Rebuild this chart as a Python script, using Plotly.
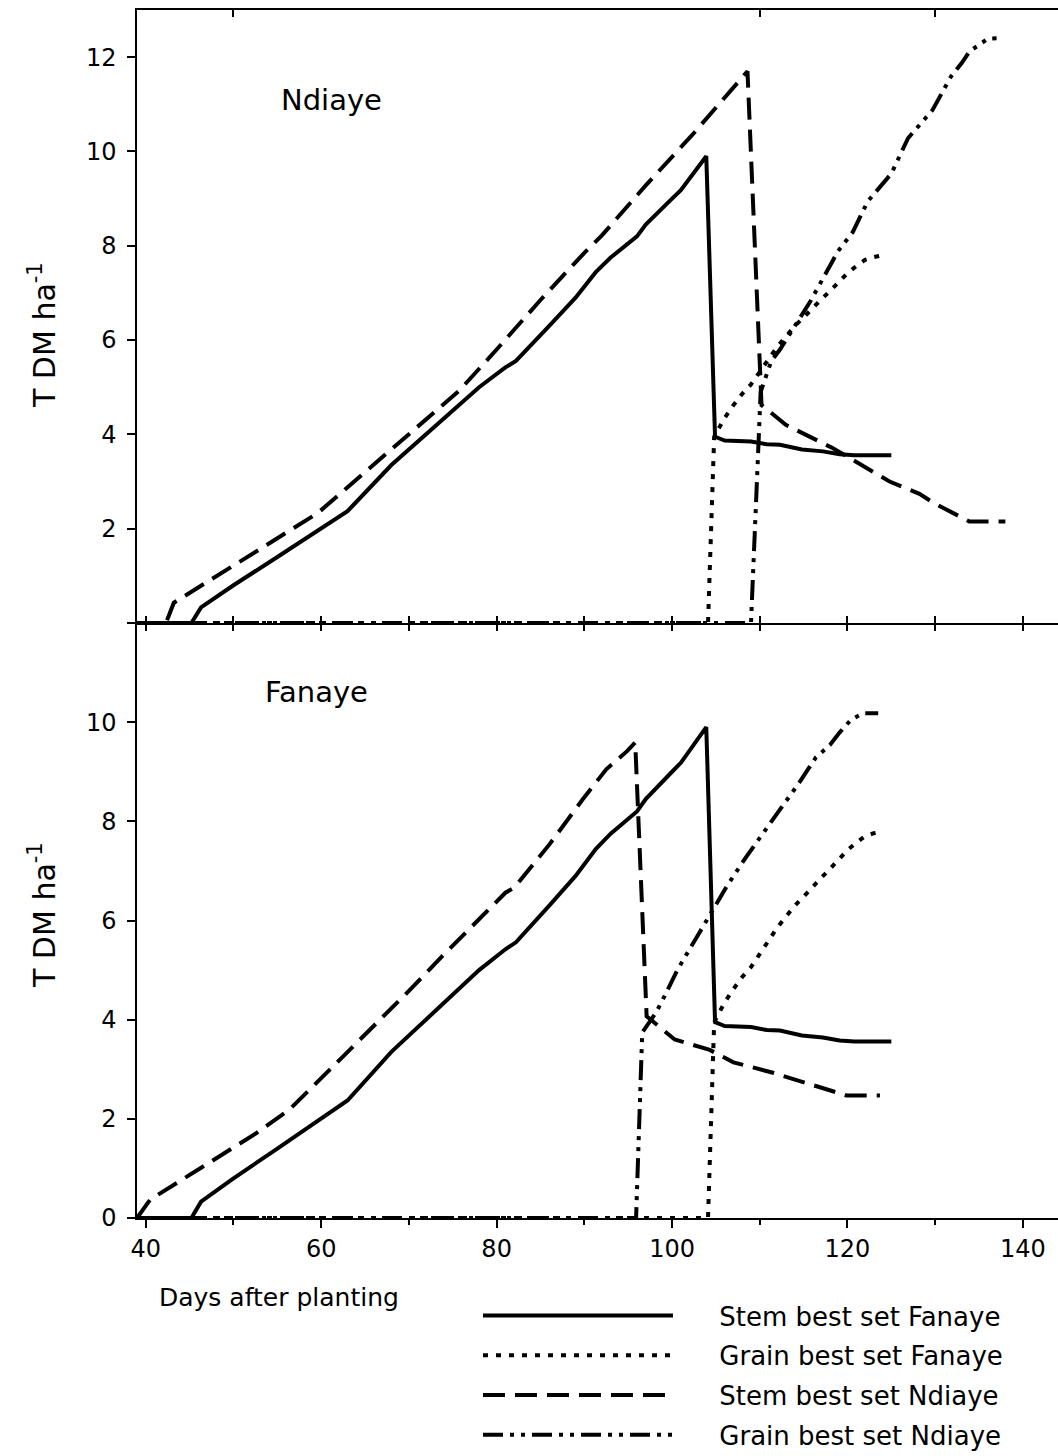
import plotly.graph_objects as go

# ---------------- data ----------------
# Stem / grain simulated with the "best set Fanaye" parameters (same in both panels)
stem_fan_days = [39, 45.2, 46.3, 50, 55, 60, 63, 68, 72, 76, 78, 81, 82.2, 86, 89, 91.3, 93, 96, 97,
                 100, 101, 103.9, 104.9, 106, 109, 110.8, 112.3, 114.8, 117.2, 119.1, 120.8, 125]
stem_fan_vals = [0, 0, 0.33, 0.80, 1.40, 2.00, 2.37, 3.35, 4.00, 4.65, 5.00, 5.42, 5.56, 6.30, 6.90, 7.44,
                 7.75, 8.20, 8.45, 9.00, 9.18, 9.90, 3.95, 3.87, 3.85, 3.79, 3.78, 3.68, 3.64, 3.58, 3.56, 3.56]

grain_fan_days = [39, 104.1, 104.8, 106, 107, 108, 109, 110, 111, 112, 113, 114, 115, 116, 117, 118,
                  119, 120, 121, 122, 123, 124]
grain_fan_vals = [0, 0, 3.95, 4.35, 4.62, 4.86, 5.06, 5.33, 5.60, 5.86, 6.08, 6.30, 6.48, 6.68, 6.86, 7.04,
                  7.23, 7.42, 7.57, 7.70, 7.76, 7.80]

# Ndiaye panel, "best set Ndiaye"
stem_ndi_site_ndi_days = [39, 42.3, 43.2, 50, 55, 59.6, 65, 70, 75.7, 80, 85, 90, 92, 97, 102.3, 108.6,
                          110.2, 113, 118.3, 124.8, 128.2, 129.7, 132.8, 133.9, 138]
stem_ndi_site_ndi_vals = [0, 0, 0.43, 1.22, 1.80, 2.33, 3.20, 4.00, 4.92, 5.80, 6.85, 7.85, 8.22, 9.28,
                          10.35, 11.70, 4.62, 4.20, 3.71, 3.00, 2.74, 2.56, 2.25, 2.15, 2.15]

grain_ndi_site_ndi_days = [39, 109.0, 110.1, 111.3, 112.3, 115.7, 118.9, 120.6, 122.3, 125.0, 126.9,
                           129.7, 131.8, 133.0, 133.9, 136.0, 137.0]
grain_ndi_site_ndi_vals = [0, 0, 4.90, 5.55, 5.80, 6.80, 7.88, 8.29, 8.94, 9.53, 10.28, 10.88, 11.59,
                           11.87, 12.12, 12.39, 12.40]

# Fanaye panel, "best set Ndiaye"
stem_ndi_site_fan_days = [39, 40.5, 52.6, 56.4, 60, 65, 70, 73.8, 78, 81, 82, 86, 89.8, 92.5, 94.9, 95.8,
                          97.1, 98.6, 100.3, 104.3, 107, 111.5, 114.5, 117.6, 119.9, 123.7]
stem_ndi_site_fan_vals = [0, 0.37, 1.71, 2.19, 2.82, 3.70, 4.58, 5.28, 6.03, 6.56, 6.66, 7.53, 8.44, 9.05,
                          9.42, 9.59, 4.07, 3.86, 3.60, 3.39, 3.14, 2.93, 2.77, 2.60, 2.47, 2.47]

grain_ndi_site_fan_days = [39, 95.9, 96.6, 98.2, 99.3, 100.6, 103.1, 104.6, 106.2, 108.4, 111.5, 114.5,
                           116.4, 118.0, 119.1, 120.4, 121.8, 123.5]
grain_ndi_site_fan_vals = [0, 0, 3.74, 4.15, 4.53, 5.00, 5.75, 6.21, 6.68, 7.27, 8.02, 8.78, 9.29, 9.54,
                           9.79, 10.05, 10.18, 10.18]

series_names = ["Stem best set Fanaye", "Grain best set Fanaye", "Stem best set Ndiaye", "Grain best set Ndiaye"]
panel_labels = ["Ndiaye", "Fanaye"]
y_title = "T DM ha<sup>-1</sup>"
x_title = "Days after planting"

# ---------------- styles ----------------
FONT = "DejaVu Sans"
LW = 4
dashes = ["solid", "5px,8px", "22px,10px", "20px,7px,4px,7px,4px,7px"]
LEGEND_PAD = "\u00a0" * 5

top_series = [(stem_fan_days, stem_fan_vals), (grain_fan_days, grain_fan_vals),
              (stem_ndi_site_ndi_days, stem_ndi_site_ndi_vals), (grain_ndi_site_ndi_days, grain_ndi_site_ndi_vals)]
bot_series = [(stem_fan_days, stem_fan_vals), (grain_fan_days, grain_fan_vals),
              (stem_ndi_site_fan_days, stem_ndi_site_fan_vals), (grain_ndi_site_fan_days, grain_ndi_site_fan_vals)]

fig = go.Figure()
for i, (d, v) in enumerate(top_series):
    fig.add_trace(go.Scatter(x=d, y=v, mode="lines", name=LEGEND_PAD + series_names[i], legendgroup=f"g{i}",
                             line=dict(color="black", width=LW, dash=dashes[i]),
                             xaxis="x", yaxis="y", showlegend=True))
for i, (d, v) in enumerate(bot_series):
    fig.add_trace(go.Scatter(x=d, y=v, mode="lines", name=series_names[i], legendgroup=f"g{i}",
                             line=dict(color="black", width=LW, dash=dashes[i]),
                             xaxis="x2", yaxis="y2", showlegend=False))
# empty traces so the overlay tick axes get drawn
fig.add_trace(go.Scatter(x=[], y=[], xaxis="x3", yaxis="y", showlegend=False, hoverinfo="skip"))
fig.add_trace(go.Scatter(x=[], y=[], xaxis="x4", yaxis="y", showlegend=False, hoverinfo="skip"))

W, H = 1058, 1456
ML, MR, MT, MB = 137, 0, 10, 238
PW, PH = W - ML - MR, H - MT - MB
split = (1218 - 623) / PH
XR = [39, 144]

axis_common = dict(showgrid=False, zeroline=False, linecolor="black", linewidth=1.5,
                   tickcolor="black", tickwidth=1.5,
                   tickfont=dict(family=FONT, size=24, color="black"))

fig.update_layout(
    width=W, height=H,
    margin=dict(l=ML, r=MR, t=MT, b=MB, autoexpand=False),
    paper_bgcolor="white", plot_bgcolor="white",
    font=dict(family=FONT, color="black"),
    xaxis=dict(range=XR, domain=[0, 1], anchor="y", showline=True, mirror=True,
               ticks="inside", ticklen=7, tick0=40, dtick=10, showticklabels=False, **axis_common),
    xaxis3=dict(range=XR, overlaying="x", anchor="y", side="bottom", showline=False,
                ticks="outside", ticklen=7, tick0=40, dtick=10, showticklabels=False, **axis_common),
    xaxis4=dict(range=XR, overlaying="x", anchor="y", side="top", showline=False,
                ticks="inside", ticklen=7, tickvals=[50, 110, 130], showticklabels=False, **axis_common),
    yaxis=dict(range=[0, 13], domain=[split, 1], anchor="x", showline=True,
               tickvals=[0, 2, 4, 6, 8, 10, 12], ticktext=["", "2", "4", "6", "8", "10", "12"],
               ticks="outside", ticklen=8, ticklabelstandoff=6, **axis_common),
    xaxis2=dict(range=XR, domain=[0, 1], anchor="y2", showline=True,
                tickmode="linear", tick0=40, dtick=20, ticks="outside", ticklen=8,
                minor=dict(ticks="outside", ticklen=5, dtick=10, tick0=40, tickcolor="black", tickwidth=1.5),
                **axis_common),
    yaxis2=dict(range=[0, 12], domain=[0, split], anchor="x2", showline=True,
                tickvals=[0, 2, 4, 6, 8, 10], ticks="outside", ticklen=8, ticklabelstandoff=6,
                **axis_common),
    showlegend=True,
    legend=dict(x=(478 - ML) / PW, y=(1218 - 1292) / PH, xanchor="left", yanchor="top",
                font=dict(family=FONT, size=26, color="black"), itemwidth=190,
                tracegroupgap=3, bgcolor="rgba(0,0,0,0)", traceorder="grouped"),
)

def py(px):
    return (1218 - px) / PH

def pxx(px):
    return (px - ML) / PW

annots = [
    dict(text=panel_labels[0], x=pxx(331), y=py(100), xanchor="center", yanchor="middle",
         font=dict(family=FONT, size=29)),
    dict(text=panel_labels[1], x=pxx(316), y=py(692), xanchor="center", yanchor="middle",
         font=dict(family=FONT, size=29)),
    dict(text=y_title, x=pxx(42), y=py(335), textangle=-90, xanchor="center", yanchor="middle",
         font=dict(family=FONT, size=30)),
    dict(text=y_title, x=pxx(42), y=py(915), textangle=-90, xanchor="center", yanchor="middle",
         font=dict(family=FONT, size=30)),
    dict(text=x_title, x=pxx(157), y=py(1297), xanchor="left", yanchor="middle",
         font=dict(family=FONT, size=25)),
]
for a in annots:
    fig.add_annotation(xref="paper", yref="paper", showarrow=False, **a)

fig.write_html("out.html")
